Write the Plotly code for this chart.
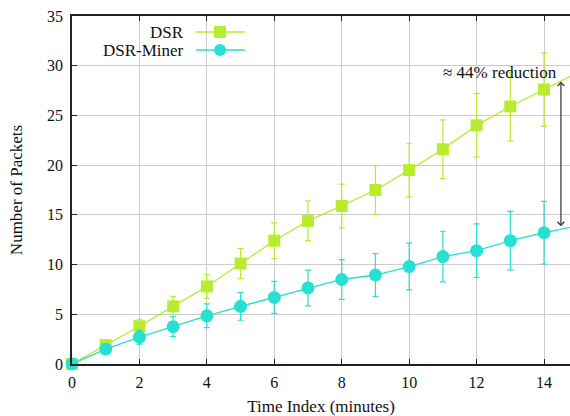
import plotly.graph_objects as go

time_index = [0, 1, 2, 3, 4, 5, 6, 7, 8, 9, 10, 11, 12, 13, 14, 15]
dsr = [0, 1.9, 3.8, 5.8, 7.8, 10.1, 12.4, 14.4, 15.9, 17.5, 19.5, 21.6, 24.0, 25.9, 27.6, 29.3]
dsr_err = [0, 0.3, 0.7, 1.0, 1.2, 1.5, 1.8, 2.0, 2.2, 2.45, 2.7, 2.95, 3.2, 3.45, 3.7, 3.9]
miner = [0, 1.5, 2.7, 3.75, 4.85, 5.8, 6.7, 7.65, 8.5, 8.95, 9.8, 10.8, 11.4, 12.4, 13.2, 13.9]
miner_err = [0, 0.3, 0.7, 1.0, 1.2, 1.4, 1.6, 1.8, 2.0, 2.15, 2.35, 2.55, 2.7, 2.95, 3.15, 3.3]

DSR_COLOR = "#b7ec2f"
MINER_COLOR = "#27dfd2"
FONT = "Liberation Serif"

fig = go.Figure()
fig.add_trace(go.Scatter(
    x=time_index, y=dsr, name="DSR", mode="lines+markers",
    line=dict(color=DSR_COLOR, width=1.3),
    marker=dict(symbol="square", size=12, color=DSR_COLOR),
    error_y=dict(type="data", array=dsr_err, color=DSR_COLOR, thickness=1.2, width=3),
    cliponaxis=False, showlegend=False,
))
fig.add_trace(go.Scatter(
    x=time_index, y=miner, name="DSR-Miner", mode="lines+markers",
    line=dict(color=MINER_COLOR, width=1.3),
    marker=dict(symbol="circle", size=13, color=MINER_COLOR),
    error_y=dict(type="data", array=miner_err, color=MINER_COLOR, thickness=1.2, width=3),
    cliponaxis=False, showlegend=False,
))

W, H = 570, 416
L, R, T, B = 72, 570, 16, 364
PW, PH = R - L, B - T

# Legend (gnuplot style: label left of sample)
legend_items = [("DSR", DSR_COLOR, "square", 32), ("DSR-Miner", MINER_COLOR, "circle", 50)]
for label, color, sym, ypx in legend_items:
    y0 = (B - ypx) / PH
    fig.add_annotation(xref="paper", yref="paper", x=(186 - L) / PW, y=y0,
                       text=label, showarrow=False, xanchor="right", yanchor="middle",
                       font=dict(family=FONT, size=17, color="#111"))
    fig.add_shape(type="line", xref="paper", yref="paper",
                  x0=(196 - L) / PW, x1=(245 - L) / PW, y0=y0, y1=y0,
                  line=dict(color=color, width=1.3))
    cx = (220 - L) / PW
    dx = 6 / PW
    dy = 6 / PH
    fig.add_shape(type="rect" if sym == "square" else "circle", xref="paper", yref="paper",
                  x0=cx - dx, x1=cx + dx, y0=y0 - dy, y1=y0 + dy,
                  fillcolor=color, line=dict(width=0))

# Reduction arrow
fig.add_annotation(x=14.5, y=28.4, ax=14.5, ay=13.7, xref="x", yref="y", axref="x", ayref="y",
                   text="", showarrow=True, arrowhead=4, arrowside="end+start",
                   arrowsize=1, arrowwidth=1.3, arrowcolor="#444", standoff=0, startstandoff=0)
fig.add_annotation(x=14.45, y=29.3, xref="x", yref="y", text="≈ 44% reduction",
                   showarrow=False, xanchor="right", yanchor="middle",
                   font=dict(family=FONT, size=17, color="#111"))

fig.update_layout(
    width=W, height=H,
    margin=dict(l=L, r=W - R, t=T, b=H - B, autoexpand=False),
    plot_bgcolor="white", paper_bgcolor="white",
    font=dict(family=FONT, size=16, color="#111"),
    xaxis=dict(range=[0, 14.77], dtick=2, tick0=0, showgrid=True, gridcolor="#cccccc", gridwidth=1,
               zeroline=False, showline=True, linecolor="#222", linewidth=1.5, mirror="ticks",
               ticks="inside", ticklen=5, tickcolor="#222", automargin=False, ticklabelstandoff=3,
               title=dict(text="Time Index (minutes)", standoff=14, font=dict(size=17))),
    yaxis=dict(range=[0, 35], dtick=5, tick0=0, showgrid=True, gridcolor="#cccccc", gridwidth=1,
               zeroline=False, showline=True, linecolor="#222", linewidth=1.5,
               ticks="inside", ticklen=5, tickcolor="#222", automargin=False, ticklabelstandoff=4,
               title=dict(text="Number of Packets", standoff=20, font=dict(size=17))),
)

fig.write_html("out.html", config={"displayModeBar": False},
               post_script="document.body.style.margin='0';document.body.style.overflow='hidden';")
